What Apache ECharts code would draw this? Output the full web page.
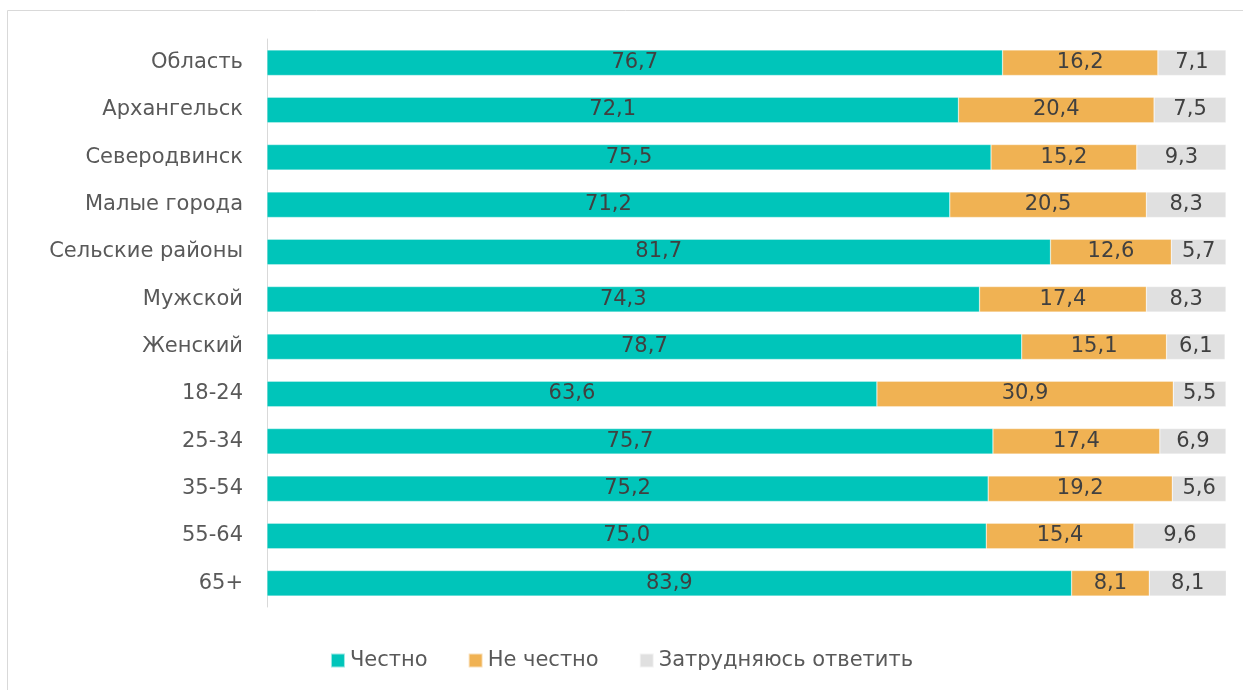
<!DOCTYPE html>
<html>
<head>
<meta charset="utf-8">
<script src="https://cdn.jsdelivr.net/npm/echarts@6/dist/echarts.min.js"></script>
<style>
  html, body { margin: 0; padding: 0; background: #fff; }
  #chart { width: 1243px; height: 690px; }
</style>
</head>
<body>
<div id="chart"></div>
<script>
const categories = ['Область', 'Архангельск', 'Северодвинск', 'Малые города', 'Сельские районы',
  'Мужской', 'Женский', '18-24', '25-34', '35-54', '55-64', '65+']
const honest = [76.7, 72.1, 75.5, 71.2, 81.7, 74.3, 78.7, 63.6, 75.7, 75.2, 75.0, 83.9]
const notHonest = [16.2, 20.4, 15.2, 20.5, 12.6, 17.4, 15.1, 30.9, 17.4, 19.2, 15.4, 8.1]
const hardToSay = [7.1, 7.5, 9.3, 8.3, 5.7, 8.3, 6.1, 5.5, 6.9, 5.6, 9.6, 8.1]

const fontFamily = 'DejaVu Sans'
const fmt = p => p.value.toFixed(1).replace('.', ',')

const makeSeries = (name, data, color) => ({
  name: name,
  type: 'bar',
  stack: 'total',
  data: data,
  barCategoryGap: '46%',
  itemStyle: { color: color, borderColor: 'rgba(255,255,255,0.6)', borderWidth: 0.5 },
  label: {
    show: true,
    position: 'inside',
    formatter: fmt,
    color: '#404040',
    fontSize: 21,
    fontFamily: fontFamily
  }
})

const chart = echarts.init(document.getElementById('chart'))
chart.setOption({
  animation: false,
  graphic: [{
    type: 'rect',
    shape: { x: 7.5, y: 10.5, width: 1250, height: 700 },
    style: { fill: 'none', stroke: '#d9d9d9', lineWidth: 1 },
    silent: true
  }],
  legend: {
    bottom: 14,
    left: 'center',
    itemWidth: 14,
    itemHeight: 14,
    itemGap: 40,
    icon: 'rect',
    textStyle: { color: '#595959', fontSize: 21, fontFamily: fontFamily }
  },
  grid: { left: 267, right: 17, top: 39, bottom: 83, containLabel: false },
  xAxis: {
    type: 'value',
    min: 0,
    max: 100,
    show: false
  },
  yAxis: {
    type: 'category',
    data: categories,
    inverse: true,
    axisLine: { lineStyle: { color: '#d9d9d9' } },
    axisTick: { show: false },
    axisLabel: { color: '#595959', fontSize: 21, fontFamily: fontFamily, margin: 24 }
  },
  series: [
    makeSeries('Честно', honest, '#00C5BA'),
    makeSeries('Не честно', notHonest, '#F0B253'),
    makeSeries('Затрудняюсь ответить', hardToSay, '#E0E0E0')
  ]
})
</script>
</body>
</html>
